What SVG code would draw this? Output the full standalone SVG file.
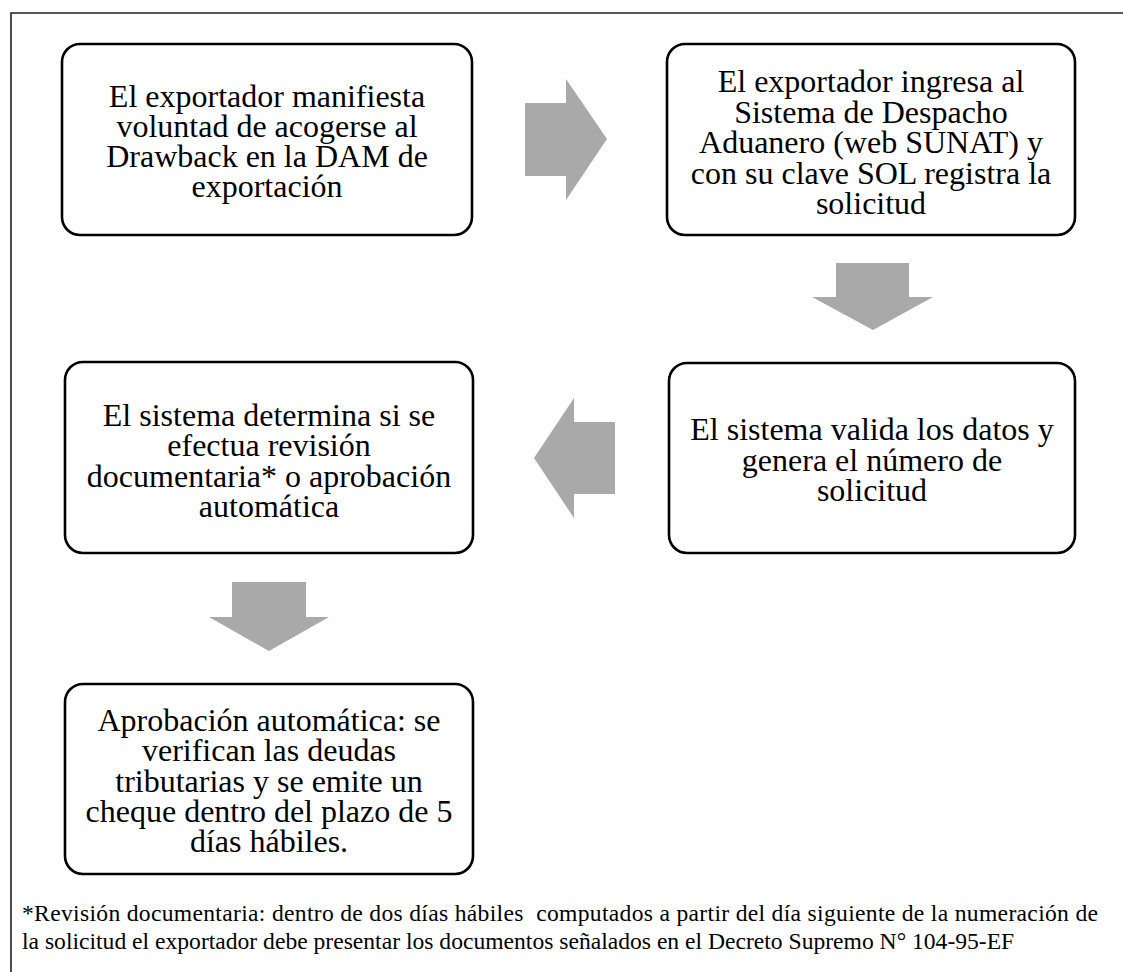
<svg xmlns="http://www.w3.org/2000/svg" width="1123" height="972" viewBox="0 0 1123 972">
<style>
.box{fill:#fff;stroke:#000;stroke-width:2.6}
.arr{fill:#A9A9A9;stroke:none}
.t{font-family:"Liberation Serif","Times New Roman",serif;font-size:32px;fill:#000;text-anchor:middle}
.fn{font-family:"Liberation Serif","Times New Roman",serif;font-size:23.6px;fill:#000;white-space:pre}
.frame{stroke:#222;stroke-width:1.6;fill:none}
</style>
<rect width="1123" height="972" fill="#fff"/>
<path class="frame" d="M11,972 V13 H1123"/>
<g id="connectors">
<polygon class="arr" points="525,103 566,103 566,79 607,139 566,200 566,176 525,176"/>
<polygon class="arr" points="836,263 909,263 909,297 933,297 873,330 812,297 836,297"/>
<polygon class="arr" points="615,422 574,422 574,398 534,458 574,518 574,494 615,494"/>
<polygon class="arr" points="232,582 306,582 306,617 329,617 269,651 209,617 232,617"/>
</g>
<g id="node1">
<rect class="box" x="62" y="44" width="410" height="191" rx="18"/>
<text class="t" y="107"><tspan x="267">El exportador manifiesta</tspan><tspan x="267" dy="30">voluntad de acogerse al</tspan><tspan x="267" dy="30">Drawback en la DAM de</tspan><tspan x="267" dy="30">exportación</tspan></text>
</g>
<g id="node2">
<rect class="box" x="667" y="44" width="408" height="191" rx="18"/>
<text class="t" y="92"><tspan x="871">El exportador ingresa al</tspan><tspan x="871" dy="30.5">Sistema de Despacho</tspan><tspan x="871" dy="30.5">Aduanero (web SUNAT) y</tspan><tspan x="871" dy="30.5">con su clave SOL registra la</tspan><tspan x="871" dy="30.5">solicitud</tspan></text>
</g>
<g id="node3">
<rect class="box" x="669" y="363" width="406" height="190" rx="18"/>
<text class="t" y="440"><tspan x="872">El sistema valida los datos y</tspan><tspan x="872" dy="30.5">genera el número de</tspan><tspan x="872" dy="30.5">solicitud</tspan></text>
</g>
<g id="node4">
<rect class="box" x="65" y="362" width="408" height="191" rx="18"/>
<text class="t" y="426"><tspan x="269">El sistema determina si se</tspan><tspan x="269" dy="30.3">efectua revisión</tspan><tspan x="269" dy="30.3">documentaria* o aprobación</tspan><tspan x="269" dy="30.3">automática</tspan></text>
</g>
<g id="node5">
<rect class="box" x="65" y="684" width="408" height="190" rx="18"/>
<text class="t" y="731"><tspan x="269">Aprobación automática: se</tspan><tspan x="269" dy="30.3">verifican las deudas</tspan><tspan x="269" dy="30.3">tributarias y se emite un</tspan><tspan x="269" dy="30.3">cheque dentro del plazo de 5</tspan><tspan x="269" dy="30.3">días hábiles.</tspan></text>
</g>
<g id="footnote">
<text class="fn" x="22" y="921" textLength="1076" lengthAdjust="spacing">*Revisión documentaria: dentro de dos días hábiles  computados a partir del día siguiente de la numeración de</text>
<text class="fn" x="22" y="949">la solicitud el exportador debe presentar los documentos señalados en el Decreto Supremo N° 104-95-EF</text>
</g>
</svg>
